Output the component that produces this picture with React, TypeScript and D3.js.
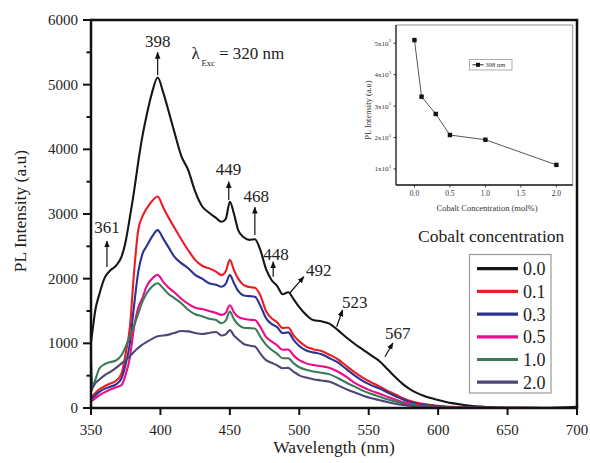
import React from "react";
import * as d3 from "d3";

// ---- Data ----
const wavelengths = [350, 351, 353, 356, 360, 364, 368, 372, 375, 378, 381, 384, 387, 390, 394, 398, 402, 406, 410, 415, 420, 425, 430, 435, 440, 444, 447, 450, 453, 456, 460, 464, 468, 472, 476, 480, 484, 488, 492, 496, 500, 505, 510, 516, 522, 528, 534, 540, 546, 552, 558, 564, 570, 576, 582, 590, 600, 610, 620, 635, 650, 675, 700];

const conc00 = [1020, 1180, 1500, 1760, 2020, 2130, 2200, 2340, 2580, 2950, 3350, 3800, 4200, 4520, 4880, 5110, 4880, 4580, 4270, 3900, 3680, 3350, 3120, 3020, 2940, 2880, 2920, 3190, 3000, 2750, 2640, 2600, 2610, 2440, 2150, 1980, 1890, 1760, 1790, 1680, 1560, 1440, 1360, 1340, 1300, 1200, 1090, 990, 900, 810, 720, 590, 460, 345, 260, 185, 125, 75, 42, 15, 5, 3, 20];
const conc01 = [160, 185, 230, 290, 340, 380, 420, 536, 850, 1250, 2100, 2750, 2960, 3080, 3200, 3270, 3100, 2940, 2790, 2610, 2440, 2290, 2200, 2160, 2110, 2055, 2110, 2290, 2130, 2000, 1900, 1870, 1860, 1740, 1500, 1390, 1325, 1235, 1245, 1120, 1030, 950, 910, 880, 820, 750, 650, 550, 465, 395, 330, 260, 200, 140, 97, 60, 35, 18, 10, 5, 3, 1, 0];
const conc03 = [124, 150, 190, 250, 300, 330, 365, 460, 680, 1000, 1580, 2100, 2380, 2500, 2650, 2750, 2620, 2480, 2340, 2240, 2160, 2060, 2000, 1930, 1905, 1875, 1920, 2055, 1930, 1810, 1740, 1730, 1720, 1580, 1390, 1300, 1250, 1160, 1170, 1050, 960, 890, 860, 830, 768, 700, 600, 500, 415, 350, 300, 235, 175, 120, 82, 45, 25, 12, 7, 3, 2, 1, 0];
const conc05 = [97, 115, 150, 195, 245, 285, 320, 355, 520, 780, 1250, 1550, 1700, 1880, 2000, 2060, 1950, 1860, 1790, 1690, 1610, 1550, 1530, 1500, 1470, 1440, 1470, 1590, 1480, 1410, 1380, 1365, 1360, 1250, 1100, 1030, 970, 900, 905, 810, 740, 690, 665, 645, 620, 560, 480, 390, 320, 265, 220, 170, 125, 85, 57, 32, 18, 9, 5, 2, 1, 0, 0];
const conc10 = [760, 330, 430, 610, 680, 710, 735, 820, 950, 1110, 1270, 1460, 1640, 1770, 1880, 1930, 1850, 1760, 1700, 1620, 1520, 1450, 1420, 1380, 1360, 1310, 1350, 1490, 1370, 1290, 1240, 1235, 1230, 1100, 980, 900, 840, 770, 770, 690, 630, 590, 565, 545, 520, 460, 390, 330, 265, 215, 175, 130, 97, 65, 44, 25, 14, 7, 4, 2, 1, 0, 0];
const conc20 = [250, 300, 380, 440, 510, 560, 620, 690, 740, 800, 870, 930, 980, 1020, 1070, 1110, 1120, 1135, 1160, 1190, 1185, 1160, 1145, 1160, 1175, 1120, 1140, 1205, 1120, 1060, 990, 965, 950, 840, 740, 700, 660, 615, 620, 560, 505, 470, 445, 425, 405, 350, 290, 240, 190, 150, 120, 90, 62, 45, 31, 17, 9, 4, 2, 1, 0, 0, 0];

const seriesNames = ["0.0", "0.1", "0.3", "0.5", "1.0", "2.0"];
const seriesValues = [conc00, conc01, conc03, conc05, conc10, conc20];
const seriesColors = ["#161616", "#ec1c24", "#2b3290", "#ec0b8b", "#3c7a57", "#4b4877"];

const xTicks = [350, 400, 450, 500, 550, 600, 650, 700];
const yTicks = [0, 1000, 2000, 3000, 4000, 5000, 6000];
const yMinorTicks = [500, 1500, 2500, 3500, 4500, 5500];

// peak annotations: arrow from (w0,v0) to (w1,v1), label at (tw,tv)
const peakLabels = [
  { label: "398", w0: 398, v0: 5150, w1: 398, v1: 5500, tw: 398, tv: 5590, anchor: "middle" },
  { label: "361", w0: 361.5, v0: 2180, w1: 361.5, v1: 2580, tw: 361.5, tv: 2705, anchor: "middle" },
  { label: "449", w0: 449.2, v0: 3215, w1: 449.2, v1: 3500, tw: 449, tv: 3600, anchor: "middle" },
  { label: "468", w0: 468, v0: 2675, w1: 468, v1: 3105, tw: 469, tv: 3185, anchor: "middle" },
  { label: "448", w0: 481.2, v0: 2030, w1: 481.2, v1: 2260, tw: 483.2, tv: 2290, anchor: "middle" },
  { label: "492", w0: 493.3, v0: 1782, w1: 503.3, v1: 2030, tw: 504.8, tv: 2040, anchor: "start" },
  { label: "523", w0: 526.9, v0: 1257, w1: 531.2, v1: 1515, tw: 540, tv: 1545, anchor: "middle" },
  { label: "567", w0: 561.7, v0: 793, w1: 567.4, v1: 1005, tw: 571, tv: 1066, anchor: "middle" },
];

// inset data
const insetConc = [0, 0.1, 0.3, 0.5, 1.0, 2.0];
const insetPeak = [5100, 3300, 2750, 2080, 1930, 1130];
const insetXTicks = [0, 0.5, 1, 1.5, 2];
const insetYTicks = [1000, 2000, 3000, 4000, 5000];

const FONT = "'Liberation Serif', 'Times New Roman', serif";

export default function App() {
  const left = 91, right = 577, top = 20, bottom = 408;
  const x = d3.scaleLinear().domain([350, 700]).range([left, right]);
  const y = d3.scaleLinear().domain([0, 6000]).range([bottom, top]);

  const line = d3
    .line<number>()
    .x((_, i) => x(wavelengths[i]))
    .y((d) => y(d))
    .curve(d3.curveMonotoneX);

  // inset
  const iL = 396, iR = 572.7, iT = 25, iB = 185;
  const ix = d3.scaleLinear().domain([-0.26, 2.23]).range([iL, iR]);
  const iy = d3.scaleLinear().domain([490, 5580]).range([iB, iT]);
  const iline = d3
    .line<number>()
    .x((_, i) => ix(insetConc[i]))
    .y((d) => iy(d));

  const legendY0 = 268.7;
  const legendStep = 22.7;

  return (
    <svg
      width={590}
      height={463}
      style={{ position: "absolute", left: 0, top: 0, background: "#fff" }}
      fontFamily={FONT}
    >
      <defs>
        <marker
          id="arr"
          viewBox="0 0 10 10"
          refX="9"
          refY="5"
          markerWidth="7"
          markerHeight="7"
          markerUnits="userSpaceOnUse"
          orient="auto"
        >
          <path d="M0,1 L10,5 L0,9 Z" fill="#111" />
        </marker>
      </defs>
      <rect x={0} y={0} width={590} height={463} fill="#fff" />

      {/* curves */}
      {seriesValues.map((vals, k) => (
        <path
          key={k}
          d={line(vals) || ""}
          fill="none"
          stroke={seriesColors[k]}
          strokeWidth={2.1}
          strokeLinejoin="round"
        />
      ))}

      {/* frame */}
      <line x1={left} x2={right + 1.2} y1={top} y2={top} stroke="#111" strokeWidth={2.5} />
      <line x1={right} x2={right} y1={top} y2={bottom} stroke="#111" strokeWidth={2.5} />
      <line x1={left} x2={left} y1={top - 1.2} y2={bottom + 1.2} stroke="#111" strokeWidth={2.5} />
      <line x1={left - 1.2} x2={right + 1.2} y1={bottom} y2={bottom} stroke="#111" strokeWidth={2.5} />

      {/* x ticks */}
      {xTicks.map((t) => (
        <g key={t}>
          <line x1={x(t)} x2={x(t)} y1={bottom} y2={bottom + 7} stroke="#111" strokeWidth={2} />
          <text x={x(t)} y={435} textAnchor="middle" fontSize={15} fill="#222">
            {t}
          </text>
        </g>
      ))}
      {/* y ticks */}
      {yTicks.map((t) => (
        <g key={t}>
          <line x1={left - 8} x2={left} y1={y(t)} y2={y(t)} stroke="#111" strokeWidth={2} />
          <text x={78} y={y(t) + 5} textAnchor="end" fontSize={15} fill="#222">
            {t}
          </text>
        </g>
      ))}
      {yMinorTicks.map((t) => (
        <line key={t} x1={left - 4.5} x2={left} y1={y(t)} y2={y(t)} stroke="#111" strokeWidth={2} />
      ))}

      {/* axis titles */}
      <text x={334} y={453} textAnchor="middle" fontSize={17.5} fill="#222">
        Wavelength (nm)
      </text>
      <text
        transform={`translate(26,211) rotate(-90)`}
        textAnchor="middle"
        fontSize={17.5}
        fill="#222"
      >
        PL Intensity (a.u)
      </text>

      {/* peak annotations */}
      {peakLabels.map((p) => (
        <g key={p.label + p.w0}>
          <line
            x1={x(p.w0)}
            y1={y(p.v0)}
            x2={x(p.w1)}
            y2={y(p.v1)}
            stroke="#111"
            strokeWidth={1.2}
            markerEnd="url(#arr)"
          />
          <text x={x(p.tw)} y={y(p.tv)} textAnchor={p.anchor as any} fontSize={17} fill="#222">
            {p.label}
          </text>
        </g>
      ))}

      {/* excitation label */}
      <text x={191.5} y={59} fontSize={17} fill="#222">
        λ
      </text>
      <text x={201.5} y={66} fontSize={8.5} fill="#222">
        Exc
      </text>
      <text x={219} y={59} fontSize={17} fill="#222">
        = 320 nm
      </text>

      {/* legend */}
      <text x={418} y={242} fontSize={17.5} fill="#222">
        Cobalt concentration
      </text>
      <rect x={469.5} y={254.5} width={81.5} height={138.5} fill="#fff" stroke="#999" strokeWidth={1.2} />
      {seriesNames.map((n, k) => (
        <g key={n}>
          <line
            x1={477}
            x2={518}
            y1={legendY0 + k * legendStep}
            y2={legendY0 + k * legendStep}
            stroke={seriesColors[k]}
            strokeWidth={3.2}
          />
          <text x={523} y={legendY0 + k * legendStep + 6.5} fontSize={18} fill="#222">
            {n}
          </text>
        </g>
      ))}

      {/* inset */}
      <g>
        <line x1={iL} x2={iR} y1={iT} y2={iT} stroke="#777" strokeWidth={0.8} />
        <line x1={iR} x2={iR} y1={iT} y2={iB} stroke="#777" strokeWidth={0.8} />
        <line x1={iL} x2={iL} y1={iT} y2={iB} stroke="#111" strokeWidth={1.3} />
        <line x1={iL} x2={iR} y1={iB} y2={iB} stroke="#111" strokeWidth={1.3} />
        {insetXTicks.map((t) => (
          <g key={t}>
            <line x1={ix(t)} x2={ix(t)} y1={iB} y2={iB + 2.5} stroke="#111" strokeWidth={0.8} />
            <text x={ix(t)} y={196} textAnchor="middle" fontSize={7.5} fill="#333">
              {t.toFixed(1)}
            </text>
          </g>
        ))}
        {insetYTicks.map((t) => (
          <g key={t}>
            <line x1={iL - 2.5} x2={iL} y1={iy(t)} y2={iy(t)} stroke="#111" strokeWidth={0.8} />
            <text x={388.5} y={iy(t) + 2.5} textAnchor="end" fontSize={7} fill="#333">
              {`${t / 1000}x10`}
            </text>
            <text x={388.8} y={iy(t) - 1} fontSize={4.5} fill="#333">
              3
            </text>
          </g>
        ))}
        <path d={iline(insetPeak) || ""} fill="none" stroke="#444" strokeWidth={0.9} />
        {insetPeak.map((v, i) => (
          <rect key={i} x={ix(insetConc[i]) - 2.2} y={iy(v) - 2.2} width={4.4} height={4.4} fill="#111" />
        ))}
        <text x={487} y={211} textAnchor="middle" fontSize={8.5} fill="#333">
          Cobalt Concentration (mol%)
        </text>
        <text transform={`translate(371,110) rotate(-90)`} textAnchor="middle" fontSize={8.5} fill="#333">
          PL Intensity (a.u)
        </text>
        <rect x={469.5} y={59.5} width={42.5} height={10.5} fill="#fff" stroke="#999" strokeWidth={0.8} />
        <line x1={472.5} x2={483.5} y1={64.8} y2={64.8} stroke="#222" strokeWidth={1} />
        <rect x={476} y={62.8} width={4} height={4} fill="#111" />
        <text x={485.5} y={67.3} fontSize={6.5} fill="#333">
          398 nm
        </text>
      </g>
    </svg>
  );
}
